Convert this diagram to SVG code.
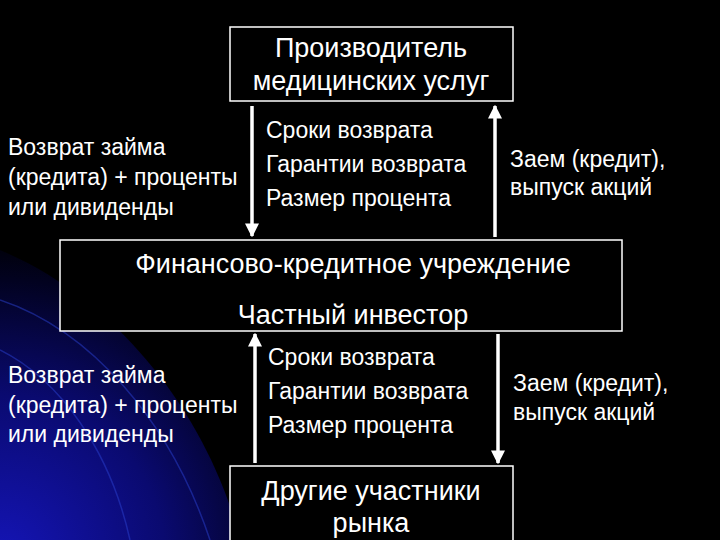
<svg xmlns="http://www.w3.org/2000/svg" width="720" height="540" viewBox="0 0 720 540">
<defs>
<radialGradient id="bg" cx="0" cy="560" r="330" gradientUnits="userSpaceOnUse">
<stop offset="0" stop-color="#1515b8"/>
<stop offset="0.5" stop-color="#0a0a70"/>
<stop offset="0.85" stop-color="#020220"/>
<stop offset="1" stop-color="#000"/>
</radialGradient>
<marker id="ah" viewBox="0 0 10 10" refX="9" refY="5" markerWidth="4" markerHeight="4" orient="auto">
<path d="M0,0 L10,5 L0,10 z" fill="#fff"/>
</marker>
<style>
text{font-family:"Liberation Sans",Arial,sans-serif;fill:#fff}
.b{fill:#000;stroke:#fff;stroke-width:1.5}
.t{font-size:27px}
.s{font-size:23px}
.c line{stroke:#fff;stroke-width:3.5;marker-end:url(#ah)}
</style>
</defs>
<rect width="720" height="540" fill="#000"/>
<path d="M0,250 C120,300 210,420 240,540 L0,540 Z" fill="url(#bg)"/>
<g fill="none" stroke="#2a3fd0" stroke-opacity="0.5" stroke-width="1.5">
<path d="M0,300 C90,330 170,420 210,540"/>
<path d="M0,350 C60,380 110,450 130,540"/>
</g>
<g id="n1"><rect class="b" x="230" y="27" width="283" height="74"/>
<text class="t" x="371" y="57" text-anchor="middle">Производитель</text>
<text class="t" x="371" y="90" text-anchor="middle">медицинских услуг</text></g>
<g id="n2"><rect class="b" x="60" y="240" width="562" height="91"/>
<text class="t" x="353" y="273" text-anchor="middle">Финансово-кредитное учреждение</text>
<text class="t" x="353" y="324" text-anchor="middle">Частный инвестор</text></g>
<g id="n3"><rect class="b" x="230" y="466" width="283" height="80"/>
<text class="t" x="371" y="500" text-anchor="middle">Другие участники</text>
<text class="t" x="371" y="532" text-anchor="middle">рынка</text></g>
<g class="c">
<line x1="252" y1="106" x2="252" y2="236"/>
<line x1="495" y1="237" x2="495" y2="106"/>
<line x1="255" y1="463" x2="255" y2="334"/>
<line x1="498" y1="334" x2="498" y2="463"/>
</g>
<g class="s">
<text x="8" y="155">Возврат займа</text>
<text x="8" y="185">(кредита) + проценты</text>
<text x="8" y="215">или дивиденды</text>
<text x="266" y="138">Сроки возврата</text>
<text x="266" y="172">Гарантии возврата</text>
<text x="266" y="206">Размер процента</text>
<text x="510" y="167">Заем (кредит),</text>
<text x="510" y="195">выпуск акций</text>
<text x="8" y="383">Возврат займа</text>
<text x="8" y="413">(кредита) + проценты</text>
<text x="8" y="442">или дивиденды</text>
<text x="268" y="365">Сроки возврата</text>
<text x="268" y="399">Гарантии возврата</text>
<text x="268" y="433">Размер процента</text>
<text x="513" y="391">Заем (кредит),</text>
<text x="513" y="420">выпуск акций</text>
</g>
</svg>
